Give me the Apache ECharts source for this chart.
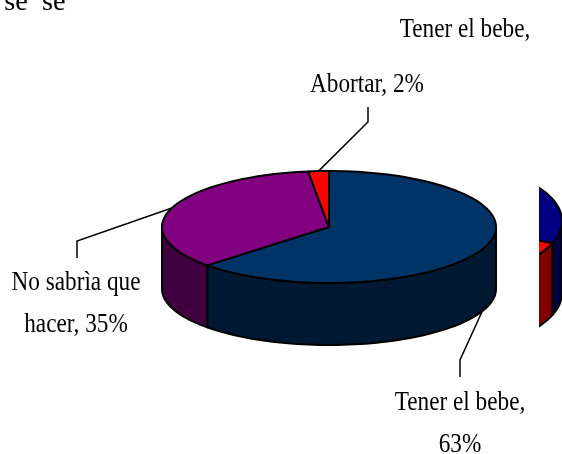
<!DOCTYPE html>
<html><head><meta charset="utf-8">
<style>html,body{margin:0;padding:0;background:#fff}#c{width:562px;height:454px}</style>
<script src="https://cdn.jsdelivr.net/npm/echarts@6/dist/echarts.min.js"></script></head>
<body><div id="c"></div>
<script>
const categories = ['Tener el bebe', 'No sabrìa que hacer', 'Abortar'];
const mainValues = [63, 35, 2];
const mainTop = ['#003366', '#800080', '#ff0000'];
const mainSide = ['#001933', '#400040', '#800000'];
const sideCategories = ['Tener el bebe', 'Abortar'];
const sideValues = [31, 69];
const sideTop = ['#000080', '#ff0000'];
const sideSide = ['#000040', '#800000'];
const mainLabels = ['Tener el bebe,\n63%', 'No sabrìa que\nhacer, 35%', 'Abortar, 2%'];
const strayTexts = ['Tener el bebe,', 'se  se'];

const FONT = '27px "Liberation Serif"';
const SCALE = 0.86;
const chart = echarts.init(document.getElementById('c'), null, {renderer: 'canvas'});

function pt(p, a, dy) {
  const t = a * Math.PI / 180;
  return [p.cx + p.rx * Math.sin(t), p.cy - p.ry * Math.cos(t) + (dy || 0)];
}
function arc(p, a0, a1, dy) {
  const out = [], n = Math.max(2, Math.ceil(Math.abs(a1 - a0) / 2));
  for (let i = 0; i <= n; i++) out.push(pt(p, a0 + (a1 - a0) * i / n, dy));
  return out;
}
function pieSeries(name, cats, vals, tops, sides, p, clip) {
  const total = vals.reduce((s, v) => s + v, 0);
  return {
    type: 'custom', name, coordinateSystem: 'none', silent: true,
    data: vals.map((v, i) => ({name: cats[i], value: [v]})),
    renderItem(params, api) {
      const i = params.dataIndex;
      const before = vals.slice(0, i).reduce((s, v) => s + v, 0);
      const a0 = before / total * 360, a1 = (before + api.value(0)) / total * 360;
      const children = [];
      const s0 = Math.max(a0, 90), s1 = Math.min(a1, 270);
      if (s1 > s0) {
        const fa = arc(p, s0, s1, 0), fb = arc(p, s1, s0, p.depth);
        children.push({type: 'polygon', shape: {points: fa.concat(fb)},
          style: {fill: sides[i], stroke: '#000', lineWidth: 2, lineJoin: 'round'}});
      }
      children.push({type: 'polygon', shape: {points: [[p.cx, p.cy]].concat(arc(p, a0, a1, 0))},
        style: {fill: tops[i], stroke: '#000', lineWidth: 2, lineJoin: 'round'}});
      const g = {type: 'group', children};
      if (clip) g.clipPath = {type: 'rect', shape: clip};
      return g;
    }
  };
}
const P1 = {cx: 329, cy: 227, rx: 167, ry: 56, depth: 62};
const P2 = {cx: 425, cy: 221, rx: 137, ry: 60, depth: 72};
const total1 = mainValues.reduce((s, v) => s + v, 0);
function midAngle(i) {
  const b = mainValues.slice(0, i).reduce((s, v) => s + v, 0);
  return (b + mainValues[i] / 2) / total1 * 360;
}
// label placement per slice: elbow of the leader, end of the leader, text centre
const layouts = [
  {dy: P1.depth, elbow: [460, 360], end: [460, 377], text: [460, 424]},
  {dy: 0, elbow: [77, 241], end: [77, 258], text: [76, 304]},
  {dy: 0, elbow: [368, 122], end: [368, 107], text: [367, 85]}
];
const labelSeries = {
  type: 'custom', coordinateSystem: 'none', silent: true, z: 5,
  data: mainLabels.map((t, i) => ({name: categories[i], value: [mainValues[i]]})),
  renderItem(params) {
    const i = params.dataIndex, L = layouts[i];
    const a = pt(P1, midAngle(i), L.dy);
    return {type: 'group', children: [
      {type: 'polyline', shape: {points: [a, L.elbow, L.end]}, style: {fill: 'none', stroke: '#000', lineWidth: 1.5}},
      {type: 'text', x: L.text[0], y: L.text[1], scaleX: SCALE,
       style: {text: mainLabels[i], font: FONT, fill: '#000', align: 'center', verticalAlign: 'middle', lineHeight: 42}}
    ]};
  }
};
const strayPos = [[465, 30], [35, 3]];
const strayScale = [SCALE, 1.05];
const straySeries = {
  type: 'custom', coordinateSystem: 'none', silent: true, z: 5,
  data: strayTexts.map(t => ({name: t, value: [0]})),
  renderItem(params) {
    const i = params.dataIndex;
    return {type: 'text', x: strayPos[i][0], y: strayPos[i][1], scaleX: strayScale[i],
      style: {text: strayTexts[i], font: FONT, fill: '#000', align: 'center', verticalAlign: 'middle'}};
  }
};
chart.setOption({
  animation: false,
  backgroundColor: '#fff',
  series: [
    pieSeries('main', categories, mainValues, mainTop, mainSide, P1),
    pieSeries('side', sideCategories, sideValues, sideTop, sideSide, P2, {x: 539, y: 150, width: 30, height: 200}),
    labelSeries, straySeries
  ]
});
</script></body></html>
